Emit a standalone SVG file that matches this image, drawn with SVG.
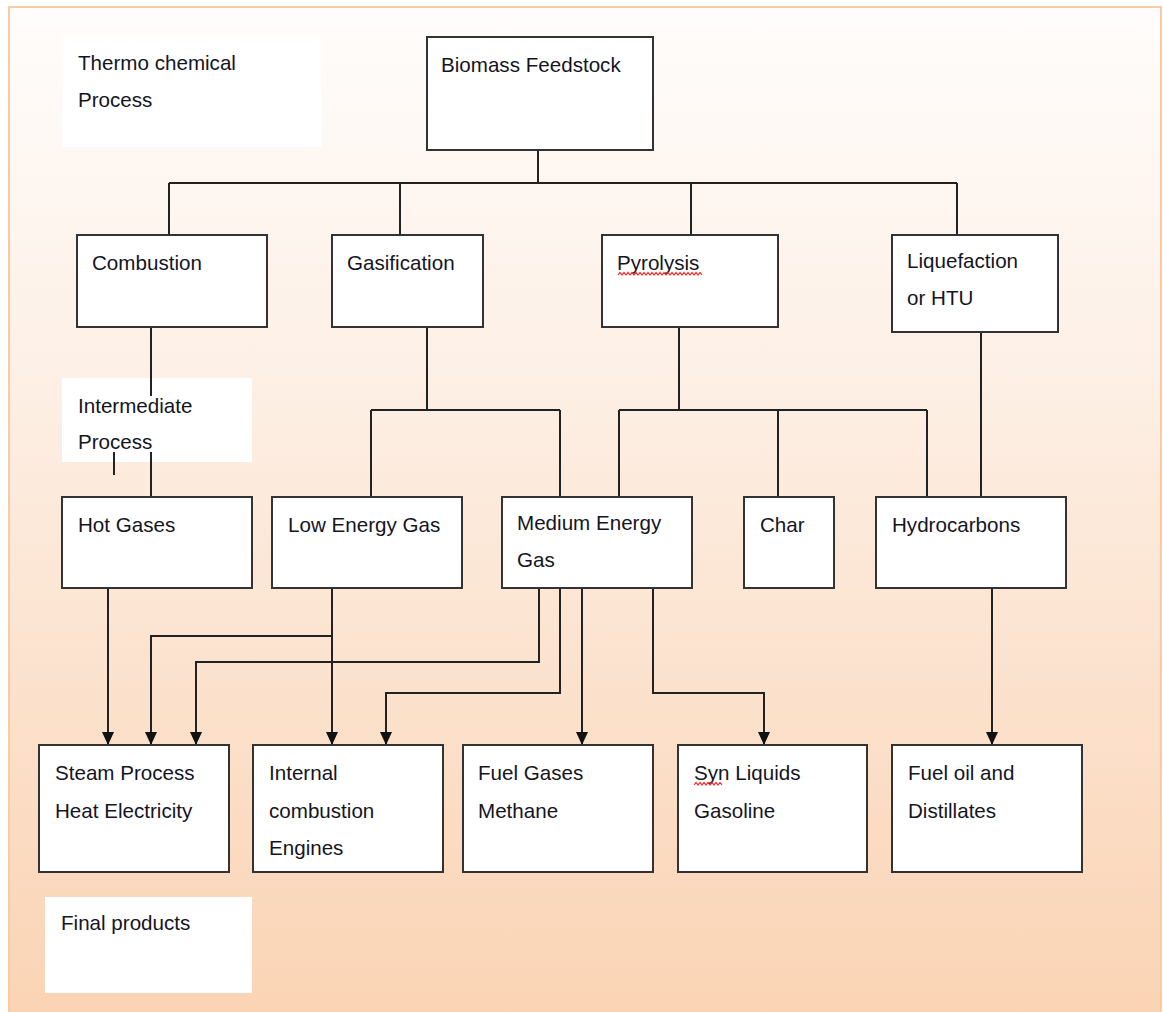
<svg xmlns="http://www.w3.org/2000/svg" width="1163" height="1012" viewBox="0 0 1163 1012">
  <defs>
    <linearGradient id="bg" x1="0" y1="0" x2="0" y2="1">
      <stop offset="0" stop-color="#fffdfc"/>
      <stop offset="0.35" stop-color="#fdf0e6"/>
      <stop offset="1" stop-color="#fad3b3"/>
    </linearGradient>
    <marker id="arrowDown" viewBox="0 0 12 13" refX="6" refY="13" markerWidth="12" markerHeight="13" markerUnits="userSpaceOnUse" orient="0">
      <path d="M0,0 L12,0 L6,13 Z" fill="#111"/>
    </marker>
  </defs>
  <style>
    .box { fill: #ffffff; stroke: #333333; stroke-width: 2; }
    .label { fill: #ffffff; stroke: none; }
    .txt { font-family: "Liberation Sans", Arial, sans-serif; font-size: 20.6px; fill: #15151f; }
    .wire { fill: none; stroke: #222222; stroke-width: 2; }
    .arr { fill: none; stroke: #222222; stroke-width: 2; }
    .squiggle { fill: none; stroke: #ff2a2a; stroke-width: 1.2; }
  </style>

  <!-- page background and frame -->
  <rect x="0" y="0" width="1163" height="1012" fill="#ffffff"/>
  <rect x="9" y="7" width="1152" height="1015" fill="url(#bg)" stroke="#fbc9a2" stroke-width="2"/>

  <!-- stage captions -->
  <g id="caption-thermo">
    <rect class="label" x="62" y="37" width="260" height="110"/>
    <text class="txt" x="78" y="70">Thermo chemical</text>
    <text class="txt" x="78" y="107">Process</text>
  </g>
  <g id="caption-intermediate">
    <rect class="label" x="62" y="378" width="190" height="84"/>
    <text class="txt" x="78" y="413">Intermediate</text>
    <text class="txt" x="78" y="449">Process</text>
  </g>
  <g id="caption-final">
    <rect class="label" x="45" y="897" width="207" height="96"/>
    <text class="txt" x="61" y="930">Final products</text>
  </g>

  <!-- connectors -->
  <g id="connectors">
    <!-- feedstock to processes -->
    <path class="wire" d="M538,150 V183"/>
    <path class="wire" d="M169,183 H957"/>
    <path class="wire" d="M169,183 V235"/>
    <path class="wire" d="M400,183 V235"/>
    <path class="wire" d="M691,183 V235"/>
    <path class="wire" d="M957,183 V235"/>

    <!-- processes to intermediates -->
    <path class="wire" d="M151,327 V396"/>
    <path class="wire" d="M151,452 V497"/>
    <path class="wire" d="M114,452 V475" stroke-width="2.5"/>
    <path class="wire" d="M427,327 V410 M371,410 H560 M371,410 V497 M560,410 V497"/>
    <path class="wire" d="M679,327 V410 M619,410 H927 M619,410 V497 M778,410 V497 M927,410 V497"/>
    <path class="wire" d="M981,332 V497"/>

    <!-- intermediates to final products -->
    <path class="arr" d="M108,588 V745" marker-end="url(#arrowDown)"/>
    <path class="arr" d="M332,588 V745" marker-end="url(#arrowDown)"/>
    <path class="arr" d="M332,636 H151 V745" marker-end="url(#arrowDown)"/>
    <path class="arr" d="M539,588 V662 H196 V745" marker-end="url(#arrowDown)"/>
    <path class="arr" d="M560,588 V693 H386 V745" marker-end="url(#arrowDown)"/>
    <path class="arr" d="M582,588 V745" marker-end="url(#arrowDown)"/>
    <path class="arr" d="M653,588 V693 H764 V745" marker-end="url(#arrowDown)"/>
    <path class="arr" d="M992,588 V745" marker-end="url(#arrowDown)"/>
  </g>

  <!-- feedstock -->
  <g id="node-feedstock">
    <rect class="box" x="427" y="37" width="226" height="113"/>
    <text class="txt" x="441" y="72">Biomass Feedstock</text>
  </g>

  <!-- conversion processes -->
  <g id="node-combustion">
    <rect class="box" x="77" y="235" width="190" height="92"/>
    <text class="txt" x="92" y="270">Combustion</text>
  </g>
  <g id="node-gasification">
    <rect class="box" x="332" y="235" width="151" height="92"/>
    <text class="txt" x="347" y="270">Gasification</text>
  </g>
  <g id="node-pyrolysis">
    <rect class="box" x="602" y="235" width="176" height="92"/>
    <text class="txt" x="617" y="270">Pyrolysis</text>
    <path class="squiggle" d="M618,275 l2,-2.5 l2,2.5 l2,-2.5 l2,2.5 l2,-2.5 l2,2.5 l2,-2.5 l2,2.5 l2,-2.5 l2,2.5 l2,-2.5 l2,2.5 l2,-2.5 l2,2.5 l2,-2.5 l2,2.5 l2,-2.5 l2,2.5 l2,-2.5 l2,2.5 l2,-2.5 l2,2.5 l2,-2.5 l2,2.5 l2,-2.5 l2,2.5 l2,-2.5 l2,2.5 l2,-2.5 l2,2.5 l2,-2.5 l2,2.5 l2,-2.5 l2,2.5 l2,-2.5 l2,2.5 l2,-2.5 l2,2.5 l2,-2.5 l2,2.5 l2,-2.5 l2,2.5"/>
  </g>
  <g id="node-liquefaction">
    <rect class="box" x="892" y="235" width="166" height="97"/>
    <text class="txt" x="907" y="268">Liquefaction</text>
    <text class="txt" x="907" y="305">or HTU</text>
  </g>

  <!-- intermediates -->
  <g id="node-hot-gases">
    <rect class="box" x="62" y="497" width="190" height="91"/>
    <text class="txt" x="78" y="532">Hot Gases</text>
  </g>
  <g id="node-low-energy-gas">
    <rect class="box" x="272" y="497" width="190" height="91"/>
    <text class="txt" x="288" y="532">Low Energy Gas</text>
  </g>
  <g id="node-medium-energy-gas">
    <rect class="box" x="502" y="497" width="190" height="91"/>
    <text class="txt" x="517" y="530">Medium Energy</text>
    <text class="txt" x="517" y="567">Gas</text>
  </g>
  <g id="node-char">
    <rect class="box" x="744" y="497" width="90" height="91"/>
    <text class="txt" x="760" y="532">Char</text>
  </g>
  <g id="node-hydrocarbons">
    <rect class="box" x="876" y="497" width="190" height="91"/>
    <text class="txt" x="892" y="532">Hydrocarbons</text>
  </g>

  <!-- final products -->
  <g id="node-steam">
    <rect class="box" x="39" y="745" width="190" height="127"/>
    <text class="txt" x="55" y="780">Steam Process</text>
    <text class="txt" x="55" y="818">Heat Electricity</text>
  </g>
  <g id="node-engines">
    <rect class="box" x="253" y="745" width="190" height="127"/>
    <text class="txt" x="269" y="780">Internal</text>
    <text class="txt" x="269" y="818">combustion</text>
    <text class="txt" x="269" y="855">Engines</text>
  </g>
  <g id="node-fuel-gases">
    <rect class="box" x="463" y="745" width="190" height="127"/>
    <text class="txt" x="478" y="780">Fuel Gases</text>
    <text class="txt" x="478" y="818">Methane</text>
  </g>
  <g id="node-syn-liquids">
    <rect class="box" x="678" y="745" width="189" height="127"/>
    <text class="txt" x="694" y="780">Syn Liquids</text>
    <text class="txt" x="694" y="818">Gasoline</text>
    <path class="squiggle" d="M694,785 l2,-2.5 l2,2.5 l2,-2.5 l2,2.5 l2,-2.5 l2,2.5 l2,-2.5 l2,2.5 l2,-2.5 l2,2.5 l2,-2.5 l2,2.5 l2,-2.5 l2,2.5"/>
  </g>
  <g id="node-fuel-oil">
    <rect class="box" x="892" y="745" width="190" height="127"/>
    <text class="txt" x="908" y="780">Fuel oil and</text>
    <text class="txt" x="908" y="818">Distillates</text>
  </g>
</svg>
